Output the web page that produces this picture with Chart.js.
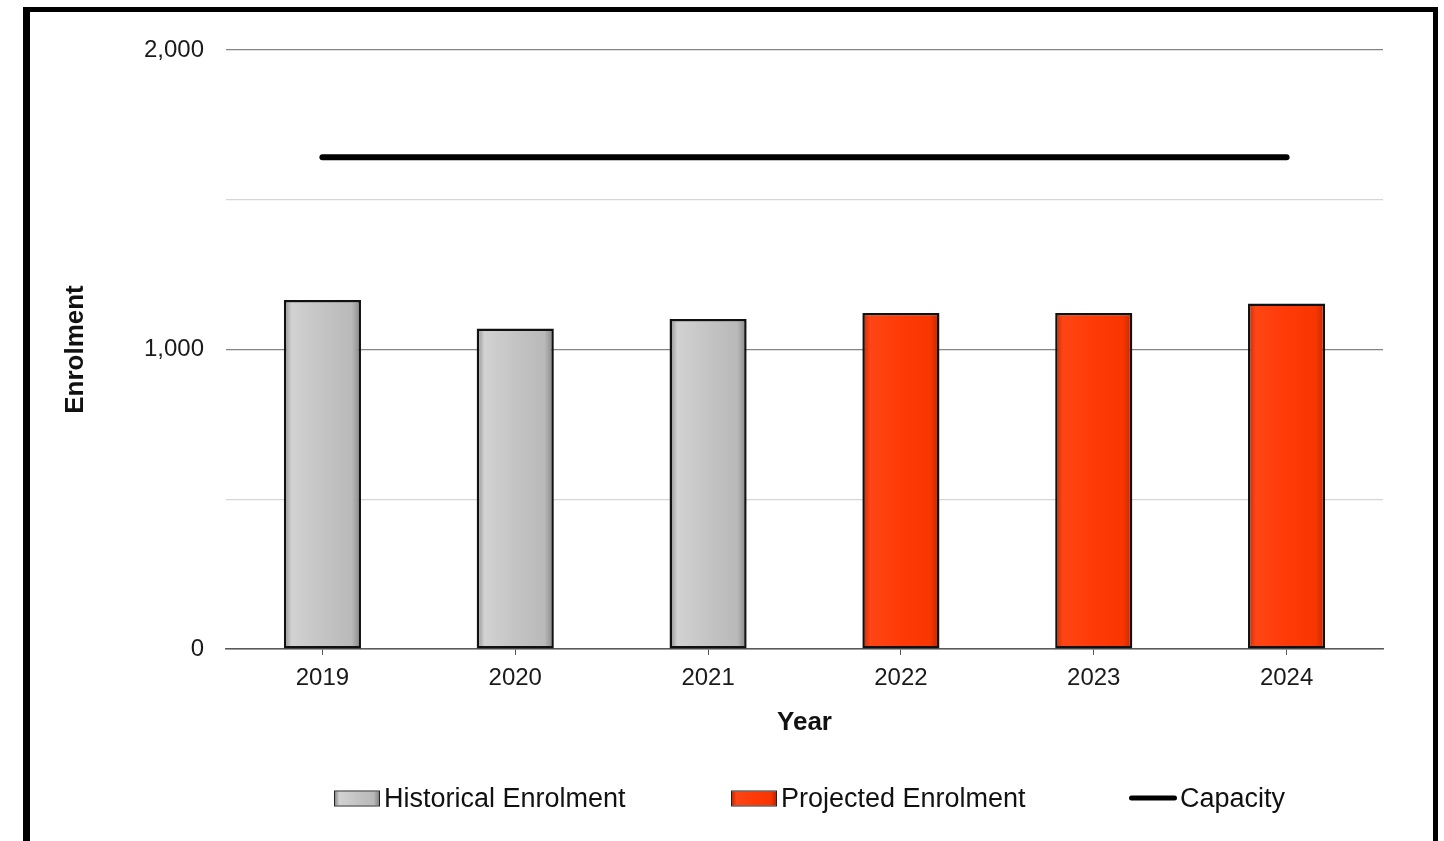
<!DOCTYPE html>
<html>
<head>
<meta charset="utf-8">
<script src="https://cdn.jsdelivr.net/npm/chart.js@4/dist/chart.umd.min.js"></script>
<style>
  html, body { margin: 0; padding: 0; background: #ffffff; overflow: hidden; }
  body { width: 1444px; height: 841px; position: relative; font-family: "Liberation Sans", Arial, sans-serif; }
  #frame { position: absolute; left: 23px; top: 7px; width: 1403px; height: 900px;
           border-top: 5px solid #000; border-right: 5px solid #000; border-left: 7px solid #000; }
  #wrap { position: absolute; left: 0; top: 0; width: 1444px; height: 841px; }
  #legend { position: absolute; left: 0; top: 0; width: 1444px; height: 841px; pointer-events: none; }
  .item { position: absolute; top: 798px; transform: translateY(-50%); display: flex; align-items: center;
          font-size: 27px; color: #111; white-space: nowrap; line-height: 1; }
  .swatch { width: 44px; height: 14px; border: 1px solid #222; margin-right: 4px; }
  .lineswatch { width: 48px; height: 5px; background: #000; border-radius: 3px; margin-right: 3px; }
</style>
</head>
<body>
<div id="frame"></div>
<div id="wrap"><canvas id="c" width="1444" height="841"></canvas></div>
<div id="legend"></div>
<script>
const years = ['2019', '2020', '2021', '2022', '2023', '2024'];
const historicalEnrolment = [1165, 1070, 1102, null, null, null];
const projectedEnrolment = [null, null, null, 1122, 1122, 1154];
const capacity = [1642, 1642, 1642, 1642, 1642, 1642];
const yLabelValues = [0, 1000, 2000];
const seriesNames = ['Historical Enrolment', 'Projected Enrolment', 'Capacity'];

const grayStops = ['#8c8c8c', '#d2d2d2', '#c4c4c4', '#b9b9b9', '#858585'];
const redStops = ['#c82a00', '#ff4514', '#ff3a08', '#f83600', '#c02600'];
const BAR_PCT = 0.4;

function barGradient(stops) {
  return function (c) {
    const chart = c.chart;
    if (!chart.chartArea || c.dataIndex === undefined || !chart.scales.x) return stops[2];
    const xs = chart.scales.x;
    const cx = xs.getPixelForValue(c.dataIndex);
    const w = xs.width / years.length * BAR_PCT;
    const g = chart.ctx.createLinearGradient(cx - w / 2, 0, cx + w / 2, 0);
    g.addColorStop(0, stops[0]);
    g.addColorStop(0.1, stops[1]);
    g.addColorStop(0.5, stops[2]);
    g.addColorStop(0.88, stops[3]);
    g.addColorStop(1, stops[4]);
    return g;
  };
}

new Chart(document.getElementById('c'), {
  type: 'bar',
  data: {
    labels: years,
    datasets: [
      {
        type: 'line',
        label: seriesNames[2],
        data: capacity,
        borderColor: '#000000',
        backgroundColor: '#000000',
        borderWidth: 6,
        borderCapStyle: 'round',
        pointRadius: 0,
        fill: false,
        order: 0
      },
      {
        label: seriesNames[0],
        data: historicalEnrolment,
        backgroundColor: barGradient(grayStops),
        borderColor: '#111111',
        borderWidth: 2.5,
        borderSkipped: false,
        grouped: false,
        barPercentage: BAR_PCT,
        categoryPercentage: 1,
        order: 1
      },
      {
        label: seriesNames[1],
        data: projectedEnrolment,
        backgroundColor: barGradient(redStops),
        borderColor: '#111111',
        borderWidth: 2.5,
        borderSkipped: false,
        grouped: false,
        barPercentage: BAR_PCT,
        categoryPercentage: 1,
        order: 1
      }
    ]
  },
  options: {
    responsive: false,
    animation: false,
    layout: { padding: { left: 0, right: 61, top: 50, bottom: 103 } },
    plugins: {
      legend: { display: false },
      tooltip: { enabled: false }
    },
    scales: {
      x: {
        offset: true,
        grid: { display: true, drawOnChartArea: false, drawTicks: true, tickLength: 6, offset: false, color: '#5a5a5a', lineWidth: 1 },
        border: { display: true, color: '#5a5a5a', width: 1.5 },
        ticks: { color: '#1a1a1a', padding: 9, font: { family: 'Liberation Sans', size: 24 } },
        title: { display: true, text: 'Year', color: '#111', padding: { top: 5, bottom: 0 },
                 font: { family: 'Liberation Sans', size: 26, weight: 'bold' } }
      },
      y: {
        min: 0,
        max: 2000,
        afterFit: (s) => { s.width = 226; },
        grid: {
          drawTicks: false,
          color: (c) => (c.tick && yLabelValues.includes(c.tick.value)) ? '#858585' : '#d6d6d6',
          lineWidth: 1.2
        },
        border: { display: false },
        ticks: {
          stepSize: 500,
          padding: 22,
          color: '#1a1a1a',
          font: { family: 'Liberation Sans', size: 24 },
          callback: (v) => yLabelValues.includes(v) ? v.toLocaleString('en-US') : ''
        },
        title: { display: true, text: 'Enrolment', color: '#111', padding: { top: 60, bottom: 0 },
                 font: { family: 'Liberation Sans', size: 26, weight: 'bold' } }
      }
    }
  }
});

// HTML legend built from the series names
const legendPositions = [334, 731, 1129];
const legendEl = document.getElementById('legend');
seriesNames.forEach((name, i) => {
  const item = document.createElement('div');
  item.className = 'item';
  item.style.left = legendPositions[i] + 'px';
  const sw = document.createElement('div');
  if (i === 2) {
    sw.className = 'lineswatch';
  } else {
    const st = i === 0 ? grayStops : redStops;
    sw.className = 'swatch';
    sw.style.background = 'linear-gradient(to right,' + st[0] + ' 0%,' + st[1] + ' 10%,' + st[2] + ' 50%,' + st[3] + ' 88%,' + st[4] + ' 100%)';
  }
  item.appendChild(sw);
  const t = document.createElement('span');
  t.textContent = name;
  item.appendChild(t);
  legendEl.appendChild(item);
});
</script>
</body>
</html>
